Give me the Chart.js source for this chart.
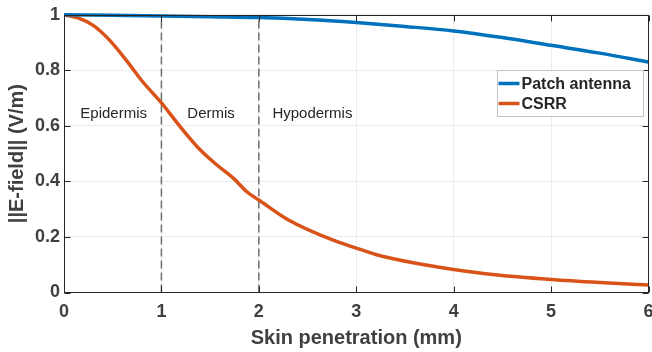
<!DOCTYPE html>
<html>
<head>
<meta charset="utf-8">
<script src="https://cdn.jsdelivr.net/npm/chart.js@4.4.1/dist/chart.umd.min.js"></script>
<style>
    html, body { margin: 0; padding: 0; background: #fff; }
</style>
</head>
<body>
<canvas id="fieldChart" width="652" height="352"></canvas>
<script>
// depth into the skin (mm) and normalised field for each design
const patchDepth = [0, 0.5, 1, 1.5, 2, 2.5, 3, 3.5, 4, 4.5, 5, 5.5, 6];
const patchField = [1.0, 0.998, 0.996, 0.993, 0.99, 0.983, 0.972, 0.958, 0.942, 0.918, 0.89, 0.862, 0.83];

const csrrDepth = [0, 0.15, 0.3, 0.47, 0.64, 0.81, 1.0, 1.2, 1.4, 1.57, 1.74, 1.88, 2.0, 2.3, 2.75, 3.0, 3.2, 3.6, 4.0, 4.4, 5.0, 5.5, 6.0];
const csrrField = [1.0, 0.988, 0.962, 0.908, 0.836, 0.758, 0.683, 0.594, 0.513, 0.459, 0.411, 0.362, 0.333, 0.262, 0.19, 0.16, 0.137, 0.106, 0.083, 0.065, 0.047, 0.036, 0.027];

// skin layer boundaries and label positions
const layerBounds = [1, 2];
const layerNames = ['Epidermis', 'Dermis', 'Hypodermis'];
const layerLabelX = [0.51, 1.51, 2.55];
const layerLabelY = 0.642;

const xTicks = [0, 1, 2, 3, 4, 5, 6];
const yTicks = [0, 0.2, 0.4, 0.6, 0.8, 1];

const seriesNames = ['Patch antenna', 'CSRR'];
const seriesColors = ['#0072BD', '#D95319'];

const FONT = "'Liberation Sans', Arial, Helvetica, sans-serif";

function toPoints(xs, ys) {
    return xs.map((v, i) => ({ x: v, y: ys[i] }));
}

// dashed boundary lines go from bottom to top of the axes
const boundaryDatasets = layerBounds.map(b => ({
    data: [{ x: b, y: yTicks[0] }, { x: b, y: yTicks[yTicks.length - 1] }],
    borderColor: '#6e6e6e',
    borderWidth: 1.5,
    borderDash: [8, 4],
    pointRadius: 0,
    tension: 0
}));

/////////////////////
// Custom plugins  //
/////////////////////

const layerLabels = {
    id: 'layerLabels',
    beforeDatasetsDraw(chart) {
        const { ctx, scales: { x, y } } = chart;
        ctx.save();
        ctx.font = '15px ' + FONT;
        ctx.fillStyle = '#262626';
        ctx.textAlign = 'center';
        ctx.textBaseline = 'middle';
        layerNames.forEach((name, i) => {
            ctx.fillText(name, x.getPixelForValue(layerLabelX[i]), y.getPixelForValue(layerLabelY));
        });
        ctx.restore();
    }
};

const frameAndLegend = {
    id: 'frameAndLegend',
    afterDraw(chart) {
        const { ctx, chartArea: a, scales: { x, y } } = chart;
        ctx.save();

        // matlab style box with inward ticks
        ctx.strokeStyle = '#262626';
        ctx.lineWidth = 1;
        const L = Math.round(a.left) + 0.5, R = Math.round(a.right) - 0.5;
        const T = Math.round(a.top) + 0.5, B = Math.round(a.bottom) - 0.5;
        ctx.strokeRect(L, T, R - L, B - T);
        ctx.beginPath();
        xTicks.forEach(v => {
            const px = Math.round(x.getPixelForValue(v)) + 0.5;
            ctx.moveTo(px, B); ctx.lineTo(px, B - 6);
            ctx.moveTo(px, T); ctx.lineTo(px, T + 6);
        });
        yTicks.forEach(v => {
            const py = Math.round(y.getPixelForValue(v)) + 0.5;
            ctx.moveTo(L, py); ctx.lineTo(L + 6, py);
            ctx.moveTo(R, py); ctx.lineTo(R - 6, py);
        });
        ctx.stroke();

        // legend box inside the axes
        const w = 146, h = 46;
        const lx = Math.round(a.right - 6 - w) + 0.5;
        const ly = Math.round(a.top + 55) + 0.5;
        ctx.fillStyle = '#ffffff';
        ctx.fillRect(lx, ly, w, h);
        ctx.strokeStyle = '#c4c4c4';
        ctx.strokeRect(lx, ly, w, h);

        ctx.font = 'bold 16px ' + FONT;
        ctx.textAlign = 'left';
        ctx.textBaseline = 'middle';
        seriesNames.forEach((name, i) => {
            const cy = ly + 13 + i * 20;
            ctx.strokeStyle = seriesColors[i];
            ctx.lineWidth = 3.5;
            ctx.beginPath();
            ctx.moveTo(lx + 1, cy);
            ctx.lineTo(lx + 22, cy);
            ctx.stroke();
            ctx.fillStyle = '#262626';
            ctx.fillText(name, lx + 24, cy + 1);
        });
        ctx.restore();
    }
};

const ctx = document.getElementById('fieldChart').getContext('2d');
const fieldChart = new Chart(ctx, {
    type: 'line',
    data: {
        datasets: [
            {
                label: seriesNames[0],
                data: toPoints(patchDepth, patchField),
                borderColor: seriesColors[0],
                borderWidth: 3.5,
                pointRadius: 0,
                cubicInterpolationMode: 'monotone',
                clip: 4
            },
            {
                label: seriesNames[1],
                data: toPoints(csrrDepth, csrrField),
                borderColor: seriesColors[1],
                borderWidth: 3.5,
                pointRadius: 0,
                cubicInterpolationMode: 'monotone',
                clip: 4
            },
            ...boundaryDatasets
        ]
    },
    options: {
        responsive: false,
        animation: false,
        layout: {
            padding: { top: 14.5, right: 3.5, left: 0, bottom: 0 }
        },
        plugins: {
            legend: { display: false },
            tooltip: { enabled: false }
        },
        scales: {
            x: {
                type: 'linear',
                min: xTicks[0],
                max: xTicks[xTicks.length - 1],
                afterBuildTicks: s => { s.ticks = xTicks.map(v => ({ value: v })); },
                // fixed height, and no extra side padding for the end labels
                afterFit: s => { s.height = 59.5; s.paddingLeft = 0; s.paddingRight = 0; },
                grid: { color: '#ebebeb', drawTicks: false },
                border: { display: true, color: '#262626' },
                ticks: {
                    padding: 9,
                    maxRotation: 0,
                    color: '#404040',
                    callback: v => String(v),
                    font: { family: FONT, size: 18, weight: 'bold' }
                },
                title: {
                    display: true,
                    text: 'Skin penetration (mm)',
                    color: '#404040',
                    padding: { top: 0, bottom: 2 },
                    font: { family: FONT, size: 20, weight: 'bold' }
                }
            },
            y: {
                type: 'linear',
                min: yTicks[0],
                max: yTicks[yTicks.length - 1],
                afterBuildTicks: s => { s.ticks = yTicks.map(v => ({ value: v })); },
                afterFit: s => { s.width = 64; },
                grid: { color: '#ebebeb', drawTicks: false },
                border: { display: true, color: '#262626' },
                ticks: {
                    padding: 4,
                    color: '#404040',
                    callback: v => String(v),
                    font: { family: FONT, size: 18, weight: 'bold' }
                },
                title: {
                    display: true,
                    text: '||E-field|| (V/m)',
                    color: '#404040',
                    padding: { top: 5.5, bottom: 0 },
                    font: { family: FONT, size: 20, weight: 'bold' }
                }
            }
        }
    },
    plugins: [layerLabels, frameAndLegend]
});
</script>
</body>
</html>
